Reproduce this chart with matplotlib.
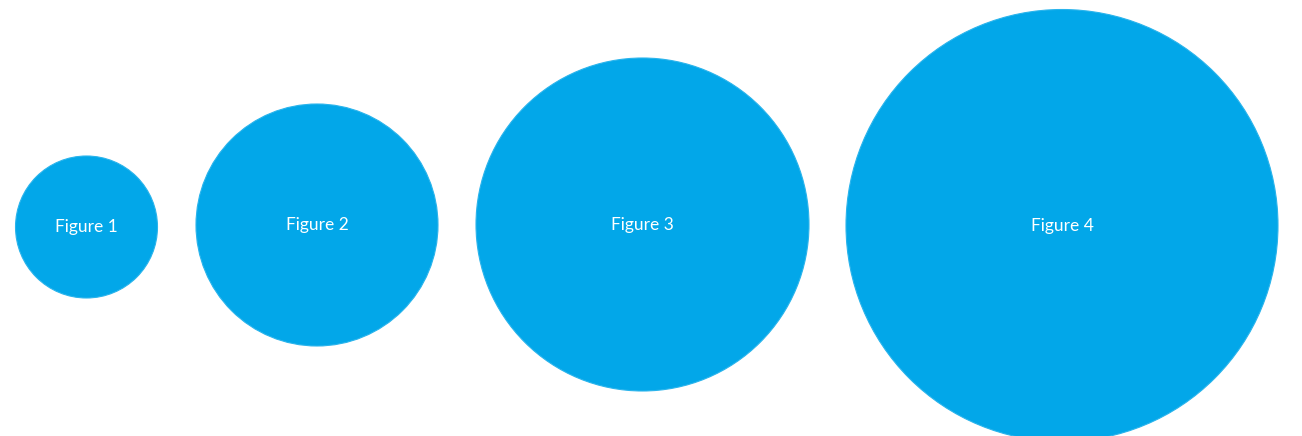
import matplotlib
matplotlib.use("Agg")
import matplotlib.pyplot as plt
from matplotlib.patches import Circle

labels = ["Figure 1", "Figure 2", "Figure 3", "Figure 4"]
values = [71, 121, 166.5, 216]  # circle radii (relative size)
centers_x = [86.5, 317, 642.5, 1062]
centers_y = [227, 225, 224.5, 225.5]

W, H = 1302, 436
fig = plt.figure(figsize=(W / 100, H / 100), dpi=100)
ax = fig.add_axes([0, 0, 1, 1])
ax.set_xlim(0, W)
ax.set_ylim(H, 0)
ax.set_aspect("equal")
ax.axis("off")

for lab, r, cx, cy in zip(labels, values, centers_x, centers_y):
    ax.add_patch(Circle((cx, cy), r, facecolor="#02A7E9",
                        edgecolor="#2AB4EC", linewidth=0.8))
    ax.text(cx, cy, lab, color="white", fontsize=12.5,
            family=["Lato", "DejaVu Sans"], ha="center", va="center")

fig.savefig("out.png", dpi=100)
